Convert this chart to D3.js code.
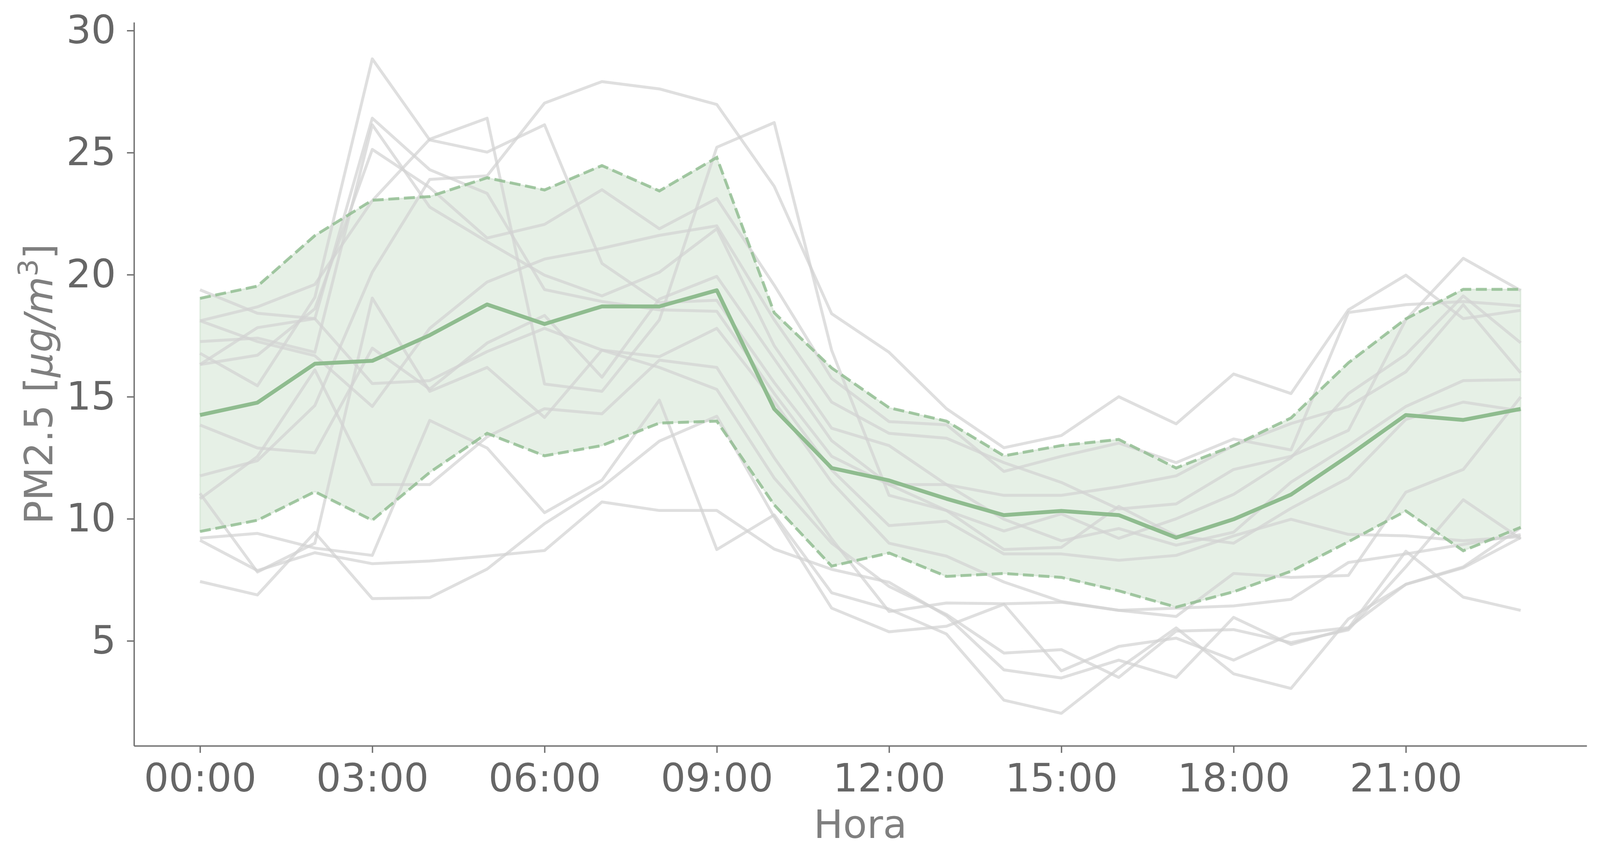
<!DOCTYPE html>
<html>
<head>
<meta charset="utf-8">
<script src="https://cdn.jsdelivr.net/npm/d3@7"></script>
<style>
  body {margin: 0; background: #fff}
  svg text {font-family: "DejaVu Sans", sans-serif}
</style>
</head>
<body>
<div id="chart"></div>
<script>
// hours of the day and the labelled ones
var hours = [0,1,2,3,4,5,6,7,8,9,10,11,12,13,14,15,16,17,18,19,20,21,22,23]
var tickHours = [0,3,6,9,12,15,18,21]
var tickLabels = ["00:00","03:00","06:00","09:00","12:00","15:00","18:00","21:00"]
var yTicks = [5,10,15,20,25,30]

// hourly mean and mean +/- std
var meanPM  = [14.25,14.76,16.35,16.47,17.52,18.78,17.98,18.70,18.70,19.36,14.50,12.08,11.57,10.82,10.15,10.32,10.15,9.23,9.98,10.99,12.58,14.25,14.05,14.50]
var upperPM = [19.03,19.53,21.60,23.05,23.20,23.97,23.47,24.47,23.43,24.80,18.44,16.18,14.55,14.00,12.58,13.00,13.25,12.08,13.00,14.13,16.39,18.19,19.40,19.40]
var lowerPM = [9.48,9.94,11.11,9.94,11.90,13.50,12.58,13.00,13.92,14.00,10.57,8.06,8.60,7.64,7.76,7.60,7.05,6.38,7.01,7.85,9.06,10.32,8.69,9.65]

// one array per station (grey lines)
var station01 = [11.76,12.38,14.64,20.10,23.90,24.05,27.03,27.91,27.61,26.97,23.62,18.40,16.82,14.51,12.91,13.41,15.00,13.89,15.93,15.13,18.56,19.98,18.20,18.54]
var station02 = [18.11,18.68,19.60,23.03,25.55,26.41,15.52,15.22,18.15,25.22,26.23,16.90,10.96,10.34,8.74,8.83,10.51,9.30,9.00,10.43,11.67,14.07,14.78,14.42]
var station03 = [16.78,15.45,19.07,28.84,25.52,25.02,26.14,20.46,18.86,18.95,15.58,12.56,11.40,11.40,10.96,10.96,11.31,11.76,13.00,13.90,14.60,16.02,18.77,15.98]
var station04 = [16.32,16.70,18.60,25.13,23.57,21.50,22.06,23.48,21.88,23.12,19.57,15.75,13.98,13.85,11.94,12.56,13.10,12.30,13.27,12.82,18.45,18.77,18.90,18.72]
var station05 = [18.11,17.26,16.68,14.60,17.80,19.70,20.64,21.08,21.61,22.00,18.15,14.78,13.50,13.30,12.30,11.49,10.40,10.61,12.02,12.56,13.62,18.15,20.67,19.35]
var station06 = [17.26,17.40,16.82,26.14,22.77,21.35,19.98,19.13,20.10,21.88,17.09,13.71,13.00,11.40,9.98,9.10,9.60,8.92,9.45,11.50,13.00,14.60,15.66,15.70]
var station07 = [13.84,12.90,12.70,16.99,15.31,17.20,18.33,15.80,19.00,19.93,16.55,13.20,11.40,10.34,9.50,10.20,9.20,10.00,11.00,12.50,15.13,16.73,19.13,17.21]
var station08 = [16.32,17.83,18.20,26.41,24.30,23.33,19.39,18.90,18.56,18.50,15.13,12.00,9.72,9.90,8.56,8.56,8.30,8.50,9.30,9.98,9.36,9.30,9.10,9.27]
var station09 = [19.38,18.42,18.20,15.54,15.66,16.85,17.80,16.91,16.64,17.80,14.80,11.50,9.00,8.47,7.41,6.61,6.25,6.00,7.76,7.60,7.68,11.09,12.02,14.99]
var station10 = [10.82,12.55,16.10,11.40,11.40,13.36,14.51,14.30,16.50,16.20,12.50,9.18,6.20,6.55,6.52,6.58,6.25,6.34,6.43,6.70,8.21,8.56,8.95,9.35]
var station11 = [11.04,7.82,9.00,19.04,15.22,16.20,14.15,16.91,16.20,15.30,11.67,9.00,7.23,6.08,4.50,4.64,3.50,5.40,5.46,4.93,5.45,8.03,10.78,9.18]
var station12 = [9.21,9.40,8.80,8.50,14.03,12.90,10.25,11.58,14.86,8.74,10.16,6.97,6.30,5.28,2.57,2.03,3.87,5.53,3.65,3.05,5.90,7.31,7.99,9.23]
var station13 = [9.12,7.88,8.61,8.16,8.27,8.47,8.70,10.69,10.34,10.34,8.76,7.93,7.40,6.02,3.81,3.48,4.21,3.50,5.96,4.85,5.51,8.67,6.79,6.25]
var station14 = [7.43,6.88,9.44,6.73,6.77,7.94,9.80,11.30,13.18,14.20,10.07,6.34,5.37,5.60,6.50,3.77,4.77,5.11,4.21,5.28,5.54,7.32,8.03,9.63]

var stations = [station01,station02,station03,station04,station05,station06,station07,
                station08,station09,station10,station11,station12,station13,station14]

var width = 4103, height = 2205
var plotLeft = 343, plotRight = 4062, plotTop = 57, plotBottom = 1910
var green = "#8fbc8f"

var svg = d3.select("#chart").append("svg")
            .attr("width", width)
            .attr("height", height)

var x = d3.scaleLinear().domain([-1.15, 24.15]).range([plotLeft, plotRight])
var y = d3.scaleLinear().domain([0.70, 30.34]).range([plotBottom, plotTop])

// band between the dashed lines
var band = d3.area()
             .x((d, i) => x(hours[i]))
             .y0((d, i) => y(lowerPM[i]))
             .y1(d => y(d))

svg.append("path")
   .attr("d", band(upperPM))
   .attr("fill", green)
   .attr("fill-opacity", 0.22)
   .attr("stroke", green)
   .attr("stroke-opacity", 0.18)
   .attr("stroke-width", 4)

var line = d3.line().x((d, i) => x(hours[i])).y(d => y(d))

svg.append("g").selectAll("path")
   .data(stations)
   .join("path")
   .attr("d", line)
   .attr("fill", "none")
   .attr("stroke", "#d3d3d3")
   .attr("stroke-opacity", 0.72)
   .attr("stroke-width", 7.5)
   .attr("stroke-linejoin", "round")

;[upperPM, lowerPM].forEach(s => {
  svg.append("path")
     .attr("d", line(s))
     .attr("fill", "none")
     .attr("stroke", green)
     .attr("stroke-opacity", 0.8)
     .attr("stroke-width", 7.5)
     .attr("stroke-dasharray", "28,12")
})

svg.append("path")
   .attr("d", line(meanPM))
   .attr("fill", "none")
   .attr("stroke", green)
   .attr("stroke-width", 10)
   .attr("stroke-linejoin", "round")

// axes
var xAxis = d3.axisBottom(x)
              .tickValues(tickHours)
              .tickFormat((d, i) => tickLabels[i])
              .tickSize(18)
              .tickSizeOuter(0)
              .tickPadding(28)
var yAxis = d3.axisLeft(y)
              .tickValues(yTicks)
              .tickSize(18)
              .tickSizeOuter(0)
              .tickPadding(28)

var gx = svg.append("g").attr("transform", "translate(0," + plotBottom + ")").call(xAxis)
var gy = svg.append("g").attr("transform", "translate(" + plotLeft + ",0)").call(yAxis)

;[gx, gy].forEach(g => {
  g.select(".domain").attr("stroke", "#707070").attr("stroke-width", 3.5)
  g.selectAll(".tick line").attr("stroke", "#707070").attr("stroke-width", 3.5)
  g.selectAll(".tick text")
   .attr("fill", "#666666")
   .attr("font-size", 100)
   .attr("font-family", "DejaVu Sans")
})

svg.append("text")
   .attr("x", (plotLeft + plotRight) / 2)
   .attr("y", 2146)
   .attr("text-anchor", "middle")
   .attr("font-size", 100)
   .attr("fill", "#7f7f7f")
   .text("Hora")

var ylab = svg.append("text")
              .attr("transform", "translate(134," + ((plotTop + plotBottom) / 2) + ") rotate(-90)")
              .attr("text-anchor", "middle")
              .attr("font-size", 100)
              .attr("fill", "#7f7f7f")
ylab.append("tspan").text("PM2.5 [")
ylab.append("tspan").attr("font-style", "italic").text("\u03bcg/m")
ylab.append("tspan").attr("font-size", 70).attr("dy", -38).text("3")
ylab.append("tspan").attr("dy", 38).text("]")
</script>
</body>
</html>
